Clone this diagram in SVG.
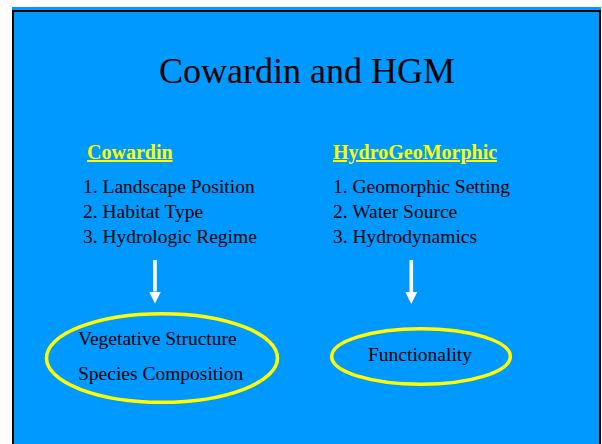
<svg xmlns="http://www.w3.org/2000/svg" width="602" height="444" viewBox="0 0 602 444">
  <style>
    .t { font-family: "Liberation Serif", "Times New Roman", serif; fill: #000; }
    .item { font-size: 19.5px; }
    .head { font-size: 20px; font-weight: bold; fill: #FFFF00; text-decoration: underline; }
    .oval { fill: none; stroke: #FFFF00; stroke-width: 3.5; }
    .arrow { stroke: #FFFFFF; stroke-width: 3.6; fill: none; }
  </style>
  <defs>
    <marker id="ah" markerUnits="userSpaceOnUse" markerWidth="12" markerHeight="12" refX="0" refY="6" orient="auto">
      <path d="M0,0 L12,6 L0,12 Z" fill="#FFFFFF"/>
    </marker>
  </defs>
  <rect x="0" y="0" width="602" height="444" fill="#FFFFFF"/>
  <rect x="12" y="7" width="589" height="440" fill="#0099FF"/>
  <path d="M13,444 L13,11 L600,11 L600,444" fill="none" stroke="#000" stroke-width="2"/>

  <g id="title">
    <text class="t" x="307" y="83" font-size="36" text-anchor="middle">Cowardin and HGM</text>
  </g>

  <g id="cowardin">
    <text class="t head" x="87" y="159">Cowardin</text>
    <text class="t item" x="83" y="193">1. Landscape Position</text>
    <text class="t item" x="83" y="218">2. Habitat Type</text>
    <text class="t item" x="83" y="243">3. Hydrologic Regime</text>
  </g>

  <g id="hgm">
    <text class="t head" x="333" y="159">HydroGeoMorphic</text>
    <text class="t item" x="333" y="193">1. Geomorphic Setting</text>
    <text class="t item" x="333" y="218">2. Water Source</text>
    <text class="t item" x="333" y="243">3. Hydrodynamics</text>
  </g>

  <g id="connectors">
    <line class="arrow" x1="155" y1="260" x2="155" y2="291.5" marker-end="url(#ah)"/>
    <line class="arrow" x1="411.3" y1="260" x2="411.3" y2="292" marker-end="url(#ah)"/>
  </g>

  <g id="cowardin-result">
    <ellipse class="oval" cx="162" cy="358" rx="115.5" ry="44.3"/>
    <text class="t item" x="78" y="345">Vegetative Structure</text>
    <text class="t item" x="78" y="380">Species Composition</text>
  </g>

  <g id="hgm-result">
    <ellipse class="oval" cx="421" cy="356.5" rx="89.3" ry="27.8"/>
    <text class="t item" x="368" y="361">Functionality</text>
  </g>
</svg>
